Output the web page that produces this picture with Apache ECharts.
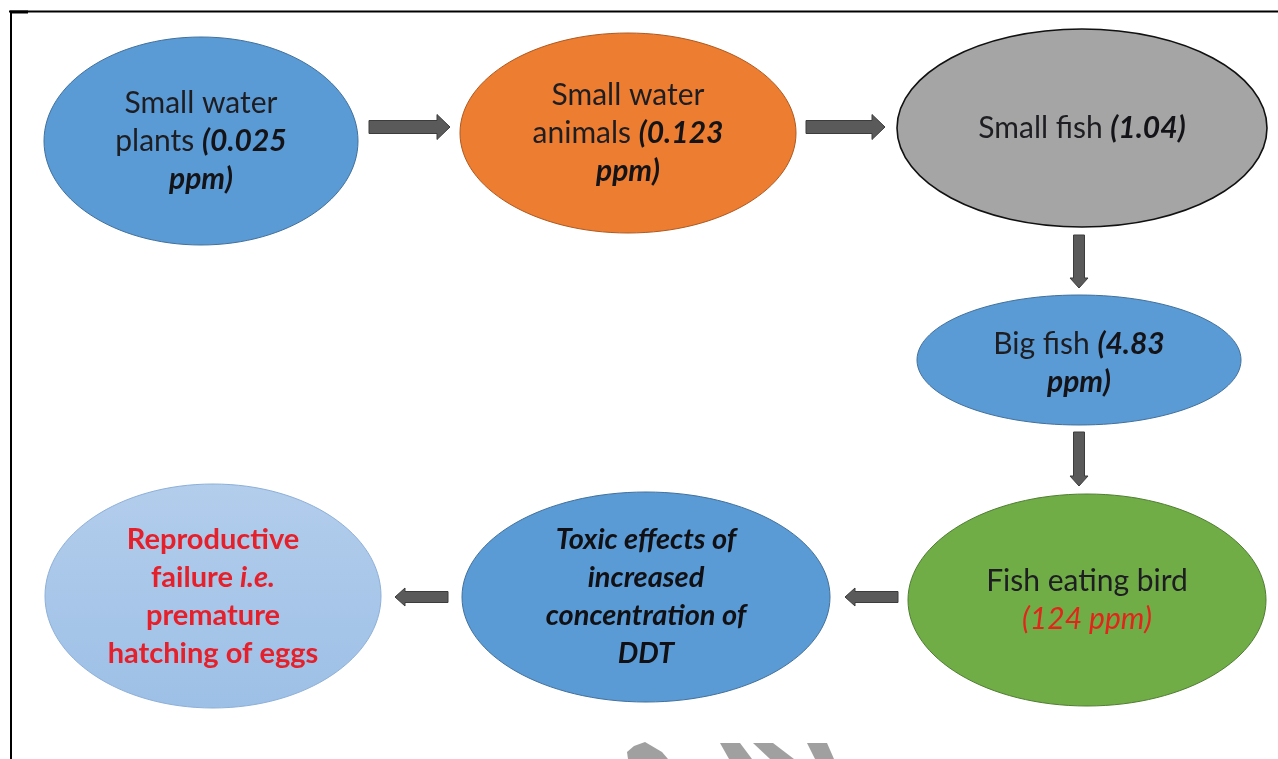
<!DOCTYPE html>
<html>
<head>
<meta charset="utf-8">
<script src="https://cdn.jsdelivr.net/npm/echarts@6/dist/echarts.min.js"></script>
<style>
html,body{margin:0;padding:0;background:#fff;}
#chart{width:1278px;height:759px;}
</style>
</head>
<body>
<div id="chart"></div>
<script>
// ---------- DATA ----------
const stages = ['Small water plants', 'Small water animals', 'Small fish', 'Big fish',
  'Fish eating bird', 'Toxic effects of increased concentration of DDT',
  'Reproductive failure i.e. premature hatching of eggs'];
const ppmValues = [0.025, 0.123, 1.04, 4.83, 124, null, null];
// flow links: from -> to (stage index)
const linkFrom = [0, 1, 2, 3, 4, 5];
const linkTo   = [1, 2, 3, 4, 5, 6];

// ---------- LABELS (built from data) ----------
const labels = [
  '{n|Small water}\n{n|plants }{b|(' + ppmValues[0] + '}\n{b|ppm)}',
  '{n|Small water}\n{n|animals }{b|(' + ppmValues[1] + '}\n{b|ppm)}',
  '{n|Small fish }{b|(' + ppmValues[2].toFixed(2) + ')}',
  '{n|Big fish }{b|(' + ppmValues[3] + '}\n{b|ppm)}',
  '{n|Fish eating bird}\n{red|(' + ppmValues[4] + ' ppm)}',
  '{bi|Toxic effects of}\n{bi|increased}\n{bi|concentration of}\n{bi|DDT}',
  '{r|Reproductive}\n{r|failure }{ri|i.e.}\n{r|premature}\n{r|hatching of eggs}'
];

// ---------- LAYOUT (axis units) ----------
const nodeCx = [201, 628, 1082, 1079, 1087, 646, 213];
const nodeCy = [141, 133, 128, 360, 600, 597, 596];
const nodeRx = [157, 168, 185, 162, 179, 184, 168];
const nodeRy = [104, 100, 99, 65, 106, 105, 112];
const textCy = [141, 133, 128, 363, 600, 597, 597];
const arrowStart = [[369,127],[806,127],[1079,235],[1079,432],[898,597],[448,597]];
const arrowEnd   = [[450,127],[885,127],[1079,288],[1079,486],[845,597],[395,597]];
const arrowBody  = [6.5, 6.5, 5.5, 5.5, 5.5, 5.5];
const arrowHeadW = [12.5, 12.5, 9, 9, 9, 9];
const arrowHeadL = [13, 13, 10, 10, 10, 10];

// ---------- STYLES ----------
const fills = ['#5b9bd5', '#ed7d31', '#a5a5a5', '#5b9bd5', '#70ad47', '#5b9bd5',
  {type:'linear',x:0,y:0,x2:0,y2:1,colorStops:[{offset:0,color:'#b3cdec'},{offset:1,color:'#9dc0e6'}]}];
const strokes = ['#41719c', '#ae5a21', '#111111', '#41719c', '#507e32', '#41719c', '#8eb0d8'];
const strokeW = [1, 1, 1.6, 1, 1, 1, 1];
const FONT = 'Lato';
const LH = 38;
const rich = {
  n:   {fontFamily:FONT, fontSize:30, lineHeight:LH, fill:'#1d1d22'},
  b:   {fontFamily:FONT, fontSize:30, lineHeight:LH, fill:'#141418', fontWeight:'bold', fontStyle:'italic'},
  red: {fontFamily:FONT, fontSize:30, lineHeight:LH, fill:'#e3241b', fontStyle:'italic'},
  bi:  {fontFamily:FONT, fontSize:29, lineHeight:LH, fill:'#111115', fontWeight:'bold', fontStyle:'italic'},
  r:   {fontFamily:FONT, fontSize:29, lineHeight:LH, fill:'#e5202a', fontWeight:'bold'},
  ri:  {fontFamily:FONT, fontSize:29, lineHeight:LH, fill:'#e5202a', fontWeight:'bold', fontStyle:'italic'}
};

const nodeData = stages.map((s, i) => ({name: s, value: [nodeCx[i], nodeCy[i], nodeRx[i], nodeRy[i], i, ppmValues[i]]}));
const linkData = linkFrom.map((f, i) => ({value: [arrowStart[i][0], arrowStart[i][1], arrowEnd[i][0], arrowEnd[i][1], i]}));

const chart = echarts.init(document.getElementById('chart'), null, {renderer:'canvas'});
chart.setOption({
  animation: false,
  backgroundColor: '#ffffff',
  grid: {left:0, right:0, top:0, bottom:0},
  xAxis: {type:'value', min:0, max:1278, show:false},
  yAxis: {type:'value', min:0, max:759, inverse:true, show:false},
  tooltip: {show:false},
  graphic: [
    {type:'line', shape:{x1:9, y1:11.5, x2:1278, y2:11.5}, style:{stroke:'#000', lineWidth:2}, z:10},
    {type:'line', shape:{x1:11, y1:11, x2:11, y2:759}, style:{stroke:'#000', lineWidth:2}, z:10},
    {type:'rect', shape:{x:10, y:10.5, width:18, height:3}, style:{fill:'#000'}, z:10},
    // faint watermark fragments at bottom
    {type:'polygon', shape:{points:[[634,746],[645,742],[662,752],[668,759],[628,759],[627,752]]}, style:{fill:'#a0a0a0'}, z:1},
    {type:'polygon', shape:{points:[[720,743],[740,743],[752,759],[729,759]]}, style:{fill:'#a0a0a0'}, z:1},
    {type:'polygon', shape:{points:[[753,743],[773,743],[794,759],[770,759]]}, style:{fill:'#a0a0a0'}, z:1},
    {type:'polygon', shape:{points:[[807,743],[827,743],[834,759],[815,759]]}, style:{fill:'#a0a0a0'}, z:1}
  ],
  series: [
    {
      type: 'custom',
      name: 'links',
      coordinateSystem: 'cartesian2d',
      silent: true,
      data: linkData,
      renderItem: function (params, api) {
        const i = api.value(4);
        const s = api.coord([api.value(0), api.value(1)]);
        const e = api.coord([api.value(2), api.value(3)]);
        const dx = e[0] - s[0], dy = e[1] - s[1];
        const len = Math.sqrt(dx*dx + dy*dy);
        const ux = dx/len, uy = dy/len, px = -uy, py = ux;
        const bw = arrowBody[i], hw = arrowHeadW[i], hl = arrowHeadL[i];
        const nx = e[0] - ux*hl, ny = e[1] - uy*hl;
        const pts = [
          [s[0]+px*bw, s[1]+py*bw], [nx+px*bw, ny+py*bw], [nx+px*hw, ny+py*hw],
          [e[0], e[1]],
          [nx-px*hw, ny-py*hw], [nx-px*bw, ny-py*bw], [s[0]-px*bw, s[1]-py*bw]
        ];
        return {type:'polygon', shape:{points:pts}, style:{fill:'#5a5a5a', stroke:'#3c3c3c', lineWidth:1}};
      },
      z: 2
    },
    {
      type: 'custom',
      name: 'stages',
      coordinateSystem: 'cartesian2d',
      silent: true,
      data: nodeData,
      renderItem: function (params, api) {
        const i = api.value(4);
        const c = api.coord([api.value(0), api.value(1)]);
        const sz = api.size([api.value(2), api.value(3)]);
        const tc = api.coord([api.value(0), textCy[i]]);
        return {
          type: 'group',
          children: [
            {type:'ellipse', shape:{cx:c[0], cy:c[1], rx:sz[0], ry:sz[1]},
             style:{fill:fills[i], stroke:strokes[i], lineWidth:strokeW[i]}},
            {type:'text', x:tc[0], y:tc[1],
             style:{text:labels[i], rich:rich, align:'center', verticalAlign:'middle', fontFamily:FONT, fontSize:30, fill:'#1d1d22'}}
          ]
        };
      },
      z: 3
    }
  ]
});
</script>
</body>
</html>
